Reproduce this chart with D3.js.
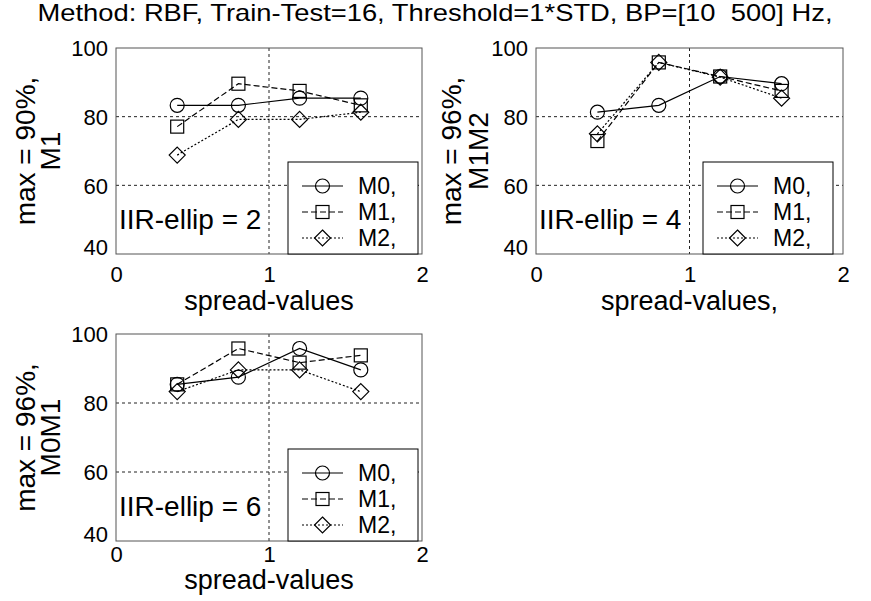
<!DOCTYPE html>
<html>
<head>
<meta charset="utf-8">
<script src="https://cdn.jsdelivr.net/npm/d3@7"></script>
<style>
  body { margin: 0; background: #fff; }
  svg { display: block; font-family: "Liberation Sans", Arial, sans-serif; }
</style>
</head>
<body>
<script>
var width = 871
var height = 601

// data
var spreadValues = [0.4, 0.8, 1.2, 1.6]
var seriesNames = ['M0,', 'M1,', 'M2,']
var xTicks = [0, 1, 2]
var yTicks = [40, 60, 80, 100]

var ellip2 = {
    M0: [83.3, 83.3, 85.4, 85.4],
    M1: [77.1, 89.6, 87.5, 83.3],
    M2: [68.8, 79.2, 79.2, 81.3]
}
var ellip4 = {
    M0: [81.3, 83.3, 91.7, 89.6],
    M1: [72.9, 95.8, 91.7, 87.5],
    M2: [75.0, 95.8, 91.5, 85.4]
}
var ellip6 = {
    M0: [85.4, 87.5, 95.8, 89.6],
    M1: [85.4, 95.8, 91.7, 93.8],
    M2: [83.3, 89.6, 89.6, 83.3]
}

var panels = [
    { data: ellip2, label: 'IIR-ellip = 2', ylab: ['max = 90%,', 'M1'], xlab: 'spread-values',
      left: 116, right: 422, top: 48, bottom: 254, legRight: 418, ylabX: [-81, -56], xtickDy: 28, xlabDy: 56 },
    { data: ellip4, label: 'IIR-ellip = 4', ylab: ['max = 96%,', 'M1M2'], xlab: 'spread-values,',
      left: 536, right: 843, top: 48, bottom: 254, legRight: 833, ylabX: [-75, -48], xtickDy: 28, xlabDy: 56 },
    { data: ellip6, label: 'IIR-ellip = 6', ylab: ['max = 96%,', 'M0M1'], xlab: 'spread-values',
      left: 116, right: 422, top: 334, bottom: 541, legRight: 418, ylabX: [-81, -56], xtickDy: 21, xlabDy: 48 }
]

var dashes = { M0: null, M1: '6,3', M2: '2,2' }

var svg = d3.select('body').append('svg').attr('width', width).attr('height', height)
svg.append('rect').attr('width', width).attr('height', height).attr('fill', '#fff')

svg.append('text')
    .attr('x', 435).attr('y', 21)
    .attr('text-anchor', 'middle')
    .attr('font-size', 24)
    .attr('textLength', 795)
    .attr('lengthAdjust', 'spacingAndGlyphs')
    .style('white-space', 'pre')
    .text('Method: RBF, Train-Test=16, Threshold=1*STD, BP=[10  500] Hz,')

function drawMarker(g, key, x, y) {
    if (key === 'M0') {
        g.append('circle').attr('cx', x).attr('cy', y).attr('r', 7)
            .attr('fill', 'none').attr('stroke', '#000').attr('stroke-width', 1.2)
    } else if (key === 'M1') {
        g.append('rect').attr('x', x - 6.5).attr('y', y - 6.5).attr('width', 13).attr('height', 13)
            .attr('fill', 'none').attr('stroke', '#000').attr('stroke-width', 1.2)
    } else {
        g.append('path')
            .attr('d', 'M' + x + ',' + (y - 8) + 'L' + (x + 8) + ',' + y + 'L' + x + ',' + (y + 8) + 'L' + (x - 8) + ',' + y + 'Z')
            .attr('fill', 'none').attr('stroke', '#000').attr('stroke-width', 1.2)
    }
}

panels.forEach(function (p) {
    var x = d3.scaleLinear().domain([0, 2]).range([p.left, p.right])
    var y = d3.scaleLinear().domain([40, 100]).range([p.bottom, p.top])
    var g = svg.append('g')

    // grid
    g.selectAll('.gy').data([60, 80]).enter().append('line')
        .attr('x1', p.left).attr('x2', p.right)
        .attr('y1', function (d) { return y(d) }).attr('y2', function (d) { return y(d) })
        .attr('stroke', '#222').attr('stroke-width', 1).attr('stroke-dasharray', '3,3')
    g.append('line')
        .attr('x1', x(1)).attr('x2', x(1)).attr('y1', p.top).attr('y2', p.bottom)
        .attr('stroke', '#222').attr('stroke-width', 1).attr('stroke-dasharray', '3,3')

    // y axis labels
    var ya = g.append('g').attr('transform', 'translate(' + p.left + ',0)')
        .call(d3.axisLeft(y).tickValues(yTicks).tickSize(0).tickPadding(8).tickFormat(d3.format('d')))
    ya.select('.domain').remove()
    ya.selectAll('text').attr('font-size', 22).attr('font-family', null).attr('fill', '#000')
        .attr('dy', function (d) { return d === 40 ? '0.0em' : '0.35em' })

    // x axis labels
    var xa = g.append('g').attr('transform', 'translate(0,' + p.bottom + ')')
        .call(d3.axisBottom(x).tickValues(xTicks).tickSize(0).tickPadding(0).tickFormat(d3.format('d')))
    xa.select('.domain').remove()
    xa.selectAll('text').attr('font-size', 22).attr('font-family', null).attr('fill', '#000')
        .attr('y', p.xtickDy).attr('dy', 0)

    // series
    Object.keys(p.data).forEach(function (key) {
        var vals = p.data[key]
        var line = d3.line()
            .x(function (d, i) { return x(spreadValues[i]) })
            .y(function (d) { return y(d) })
        g.append('path').datum(vals)
            .attr('d', line)
            .attr('fill', 'none').attr('stroke', '#000').attr('stroke-width', 1.2)
            .attr('stroke-dasharray', dashes[key])
        vals.forEach(function (v, i) { drawMarker(g, key, x(spreadValues[i]), y(v)) })
    })

    // frame
    g.append('rect')
        .attr('x', p.left).attr('y', p.top)
        .attr('width', p.right - p.left).attr('height', p.bottom - p.top)
        .attr('fill', 'none').attr('stroke', '#555').attr('stroke-width', 1)

    // in-plot label
    g.append('text')
        .attr('x', p.left + 3).attr('y', p.bottom - 25)
        .attr('font-size', 28)
        .text(p.label)

    // legend
    var lw = 130, lh = 92
    var lx = p.legRight - lw, ly = p.bottom - lh
    var leg = g.append('g')
    leg.append('rect').attr('x', lx).attr('y', ly).attr('width', lw).attr('height', lh)
        .attr('fill', '#fff').attr('stroke', '#000').attr('stroke-width', 1)
    Object.keys(p.data).forEach(function (key, i) {
        var ry = ly + 24 + i * 26
        leg.append('line')
            .attr('x1', lx + 14).attr('x2', lx + 55).attr('y1', ry).attr('y2', ry)
            .attr('stroke', '#000').attr('stroke-width', 1.2)
            .attr('stroke-dasharray', dashes[key])
        drawMarker(leg, key, lx + 34.5, ry)
        leg.append('text')
            .attr('x', lx + 70).attr('y', ry).attr('dy', '0.35em')
            .attr('font-size', 23)
            .text(seriesNames[i])
    })

    // axis titles
    var cy = (p.top + p.bottom) / 2
    p.ylab.forEach(function (t, i) {
        var tx = p.left + p.ylabX[i]
        g.append('text')
            .attr('transform', 'translate(' + tx + ',' + cy + ') rotate(-90)')
            .attr('text-anchor', 'middle')
            .attr('font-size', 28)
            .text(t)
    })
    g.append('text')
        .attr('x', (p.left + p.right) / 2).attr('y', p.bottom + p.xlabDy)
        .attr('text-anchor', 'middle')
        .attr('font-size', 27)
        .text(p.xlab)
})
</script>
</body>
</html>
